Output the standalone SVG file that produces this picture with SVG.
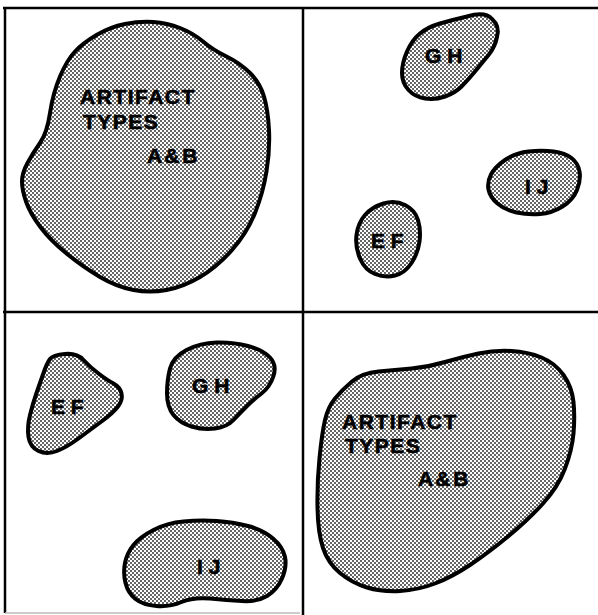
<svg xmlns="http://www.w3.org/2000/svg" width="598" height="615" viewBox="0 0 598 615">
<defs>
<pattern id="dots" width="4" height="4" patternUnits="userSpaceOnUse">
<rect width="4" height="4" fill="#ffffff"/>
<circle cx="1" cy="1" r="0.9" fill="#1a1a1a"/>
<circle cx="3" cy="3" r="0.9" fill="#1a1a1a"/>
</pattern>
</defs>
<style>
.blob{fill:url(#dots);stroke:#000;stroke-width:4;stroke-linejoin:round}
.frame{stroke:#000;stroke-width:2.5;fill:none}
.lbl{font-family:"Liberation Sans",Arial,sans-serif;font-weight:bold;font-size:21px;fill:#000;stroke:#000;stroke-width:0.6}
.big{letter-spacing:1.5px}
.ab{letter-spacing:1px;word-spacing:-5px}
</style>
<rect width="598" height="615" fill="#fff"/>
<g id="frame">
<line class="frame" x1="3" y1="8" x2="598" y2="8"/>
<line class="frame" x1="5" y1="7" x2="5" y2="613"/>
<line class="frame" x1="303" y1="7" x2="303" y2="615"/>
<line class="frame" x1="3" y1="312" x2="598" y2="312"/>
<line x1="5" y1="613" x2="300" y2="613" stroke="#bbb" stroke-width="1.5"/>
</g>
<g id="tl-ab">
<path class="blob" d="M 125,24 Q 140,21 153.5,22 Q 167,23 180,28 Q 193,33 203,41.5 Q 213,50 226.5,56.5 Q 240,63 250,73 Q 260,83 264,96.5 Q 268,110 269,130 Q 270,150 266.5,171.5 Q 263,193 255,213 Q 247,233 232,250 Q 217,267 200,277 Q 183,287 166.5,290 Q 150,293 133.5,290 Q 117,287 100,277 Q 83,267 66.5,253.5 Q 50,240 40,226.5 Q 30,213 26,201.5 Q 22,190 22,181.5 Q 22,173 27.5,163 Q 33,153 40,143 Q 47,133 50,113 Q 53,93 60,76.5 Q 67,60 75,51.5 Q 83,43 96.5,35 Q 110,27 125,24 Z"/>
<text class="lbl big" x="80" y="104">ARTIFACT</text>
<text class="lbl big" x="83" y="129">TYPES</text>
<text class="lbl ab" x="147" y="163">A &amp; B</text>
</g>
<g id="tr-gh">
<path class="blob" d="M 440,23.5 Q 452,20 467,16.5 Q 485,11 492,19 Q 500,26 497,37 Q 495,47 488.5,55 Q 482,63 475,71.5 Q 468,80 461.5,86.5 Q 455,93 445,96.5 Q 435,100 425,98.5 Q 415,97 408.5,90 Q 402,83 402,73 Q 402,63 407,51.5 Q 412,40 420,33.5 Q 428,27 440,23.5 Z"/>
<text class="lbl" x="425" y="63">G H</text>
</g>
<g id="tr-ij">
<path class="blob" d="M 491,174.5 Q 495,167 505,160 Q 515,153 528.5,151.5 Q 542,150 553.5,151.5 Q 565,153 571.5,158 Q 578,163 579.5,171.5 Q 581,180 577,190 Q 573,200 562.5,206.5 Q 552,213 540,214 Q 528,215 516.5,212.5 Q 505,210 497.5,203.5 Q 490,197 488.5,189.5 Q 487,182 491,174.5 Z"/>
<text class="lbl" x="525" y="194">I J</text>
</g>
<g id="tr-ef">
<path class="blob" d="M 365,215 Q 372,207 383.5,203.5 Q 395,200 405,205 Q 415,210 418,220 Q 421,230 419.5,241.5 Q 418,253 411.5,263 Q 405,273 395,275.5 Q 385,278 375,274 Q 365,270 360,258.5 Q 355,247 356.5,235 Q 358,223 365,215 Z"/>
<text class="lbl" x="371" y="248">E F</text>
</g>
<g id="bl-ef">
<path class="blob" d="M 50,359 Q 53,355 65,354 Q 77,353 83.5,360 Q 90,367 98.5,373.5 Q 107,380 113.5,383.5 Q 120,387 121.5,393.5 Q 123,400 118,406.5 Q 113,413 101.5,421.5 Q 90,430 78.5,438.5 Q 67,447 57,451 Q 47,455 38.5,451 Q 30,447 28.5,437 Q 27,427 30,415 Q 33,403 36.5,393 Q 40,383 43.5,373 Q 47,363 50,359 Z"/>
<text class="lbl" x="51" y="414">E F</text>
</g>
<g id="bl-gh">
<path class="blob" d="M 170,368.5 Q 173,357 186.5,350 Q 200,343 216.5,342.5 Q 233,342 248,346 Q 263,350 270,357.5 Q 277,365 273.5,376 Q 270,387 261.5,393.5 Q 253,400 246.5,406.5 Q 240,413 233.5,420 Q 227,427 215,428.5 Q 203,430 191.5,426.5 Q 180,423 173.5,415 Q 167,407 167,393.5 Q 167,380 170,368.5 Z"/>
<text class="lbl" x="192" y="393">G H</text>
</g>
<g id="bl-ij">
<path class="blob" d="M 125,563 Q 127,553 133.5,545 Q 140,537 153.5,530 Q 167,523 183.5,521.5 Q 200,520 216.5,521 Q 233,522 248,526 Q 263,530 273,538.5 Q 283,547 285,557 Q 287,567 282,578.5 Q 277,590 267,596 Q 257,602 242,601 Q 227,600 210,598.5 Q 193,597 181.5,602 Q 170,607 156.5,606 Q 143,605 135.5,599 Q 128,593 125.5,583 Q 123,573 125,563 Z"/>
<text class="lbl" x="197" y="574">I J</text>
</g>
<g id="br-ab">
<path class="blob" d="M 335,398.5 Q 342,390 352,381.5 Q 362,373 378.5,371.5 Q 395,370 411.5,368.5 Q 428,367 445,362 Q 462,357 478.5,353.5 Q 495,350 511.5,351 Q 528,352 541.5,357.5 Q 555,363 563.5,375 Q 572,387 573.5,402 Q 575,417 573.5,433.5 Q 572,450 565,468.5 Q 558,487 543,503.5 Q 528,520 508,536.5 Q 488,553 470,565 Q 452,577 435,583.5 Q 418,590 400,591 Q 382,592 367,587.5 Q 352,583 340,573 Q 328,563 323,548 Q 318,533 317.5,508 Q 317,483 319.5,458 Q 322,433 325,420 Q 328,407 335,398.5 Z"/>
<text class="lbl big" x="342" y="429">ARTIFACT</text>
<text class="lbl big" x="345" y="453">TYPES</text>
<text class="lbl ab" x="418" y="486">A &amp; B</text>
</g>
</svg>
